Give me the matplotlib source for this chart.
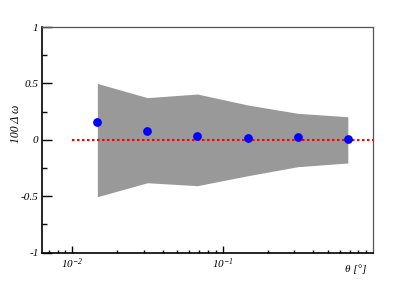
import math
import matplotlib
matplotlib.use("Agg")
import matplotlib.pyplot as plt
from matplotlib.ticker import FixedLocator, LogLocator, FuncFormatter, NullFormatter

plt.rcParams['font.family'] = ['Liberation Serif', 'DejaVu Serif']
plt.rcParams['font.style'] = 'italic'
plt.rcParams['mathtext.fontset'] = 'custom'
plt.rcParams['mathtext.rm'] = 'Liberation Serif:italic'
plt.rcParams['mathtext.it'] = 'Liberation Serif:italic'

# measured points and error band
theta = [0.0147, 0.0316, 0.068, 0.147, 0.316, 0.68]
delta = [0.156, 0.078, 0.037, 0.016, 0.025, 0.010]
band_hi = [0.50, 0.374, 0.406, 0.309, 0.235, 0.205]
band_lo = [-0.504, -0.38, -0.406, -0.318, -0.238, -0.205]

fig = plt.figure(figsize=(4.15, 2.81), dpi=100)
ax = fig.add_axes([0.1012, 0.1007, 0.7976, 0.8032])

ax.fill_between(theta, band_lo, band_hi, color='#999999', lw=0)
ax.hlines(0, 0.01, 1.0, colors='red', linestyles=(0, (1.2, 1.2)), lw=1.5)
ax.plot(theta, delta, 'o', color='blue', ms=6.3, mec='none')

ax.set_xscale('log')
ax.set_xlim(0.0063, 1.0)
ax.set_ylim(-1, 1)

ax.yaxis.set_major_locator(FixedLocator([-1, -0.5, 0, 0.5, 1]))
ax.yaxis.set_minor_locator(FixedLocator([-0.75, -0.25, 0.25, 0.75]))
ax.yaxis.set_major_formatter(FuncFormatter(lambda v, p: '%g' % v))
ax.xaxis.set_major_locator(FixedLocator([0.01, 0.1]))
ax.xaxis.set_minor_locator(LogLocator(base=10, subs=range(2, 10)))
ax.xaxis.set_major_formatter(FuncFormatter(lambda v, p: r'$10^{%d}$' % round(math.log10(v))))
ax.xaxis.set_minor_formatter(NullFormatter())

ax.tick_params(axis='y', which='major', direction='in', length=7.2, width=1, labelsize=8, pad=2.5)
ax.tick_params(axis='y', which='minor', direction='in', length=3.6, width=1)
ax.tick_params(axis='x', which='major', direction='in', length=4.8, width=1, labelsize=8, pad=3)
ax.tick_params(axis='x', which='minor', direction='in', length=2.4, width=1)

for s in ['left', 'bottom']:
    ax.spines[s].set_linewidth(1.2)
    ax.spines[s].set_color('black')
for s in ['top', 'right']:
    ax.spines[s].set_linewidth(0.9)
    ax.spines[s].set_color('#555555')

fig.text(15.7 / 415, 1 - 124 / 281, '100 Δ ω', rotation=90, fontsize=8.5,
         ha='center', va='center')
fig.text(356 / 415, 1 - 269 / 281, 'θ [°]', fontsize=8, ha='center', va='center')

fig.savefig('out.png', dpi=100)
